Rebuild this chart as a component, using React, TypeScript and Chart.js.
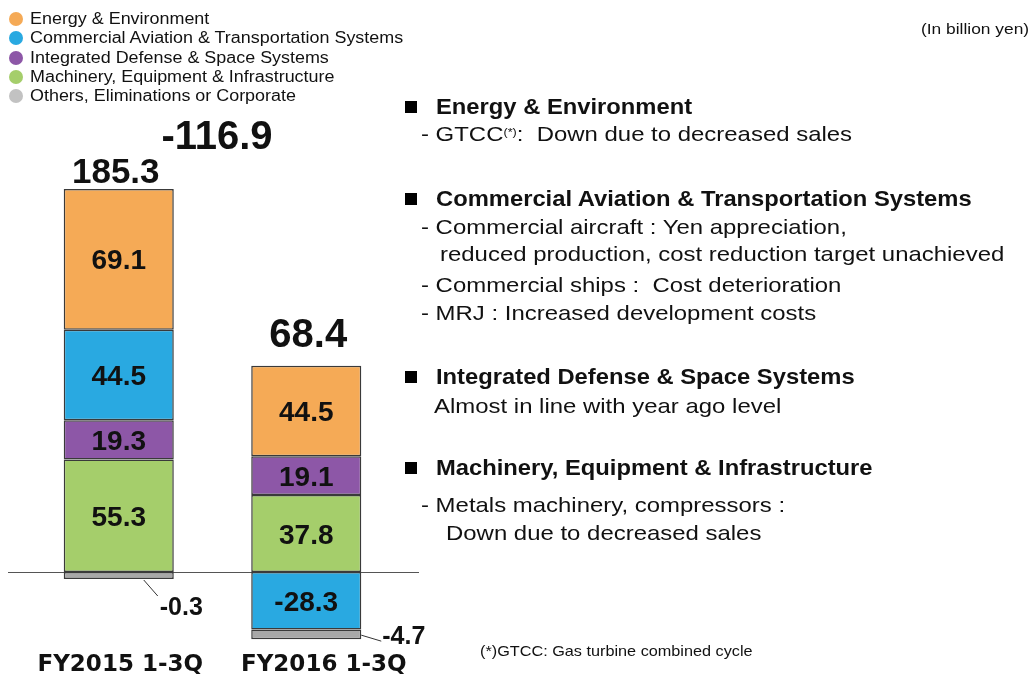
import React, { useEffect, useRef } from "react";
import { Chart, registerables } from "chart.js";

Chart.register(...registerables);

const FONT = '"Liberation Sans", Arial, sans-serif';
const STRETCH = 1.12;

// ---- data ----
const categories = ["FY2015 1-3Q", "FY2016 1-3Q"];
const seriesNames = [
  "Energy & Environment",
  "Commercial Aviation & Transportation Systems",
  "Integrated Defense & Space Systems",
  "Machinery, Equipment & Infrastructure",
  "Others, Eliminations or Corporate",
];
const energyValues = [69.1, 44.5];
const aviationValues = [44.5, -28.3];
const defenseValues = [19.3, 19.1];
const machineryValues = [55.3, 37.8];
const othersValues = [-0.3, -4.7];
const totalValues = [185.3, 68.4];
const changeValue = -116.9;

const seriesColors = ["#F5AA56", "#29A9E1", "#8D57A7", "#A5CE6B", "#A8A8A8"];
const legendColors = ["#F5AA56", "#29A9E1", "#8D57A7", "#A5CE6B", "#C2C2C2"];

// ---- notes on the right ----
type Note = { text: string; y: number; x: number; kind: "head" | "body" | "gtcc" };
const notes: Note[] = [
  { kind: "head", text: "Energy & Environment", y: 107, x: 436 },
  { kind: "gtcc", text: ":  Down due to decreased sales", y: 134, x: 421 },
  { kind: "head", text: "Commercial Aviation & Transportation Systems", y: 199, x: 436 },
  { kind: "body", text: "- Commercial aircraft : Yen appreciation,", y: 227, x: 421 },
  { kind: "body", text: "reduced production, cost reduction target unachieved", y: 254, x: 440 },
  { kind: "body", text: "- Commercial ships :  Cost deterioration", y: 285, x: 421 },
  { kind: "body", text: "- MRJ : Increased development costs", y: 313, x: 421 },
  { kind: "head", text: "Integrated Defense & Space Systems", y: 377, x: 436 },
  { kind: "body", text: "Almost in line with year ago level", y: 406, x: 434 },
  { kind: "head", text: "Machinery, Equipment & Infrastructure", y: 468, x: 436 },
  { kind: "body", text: "- Metals machinery, compressors :", y: 505, x: 421 },
  { kind: "body", text: "Down due to decreased sales", y: 533, x: 446 },
];

const labelPlugin = {
  id: "segmentLabels",
  beforeDatasetsDraw(chart: any) {
    const { ctx, scales } = chart;
    const y0 = Math.round(scales.y.getPixelForValue(0)) + 0.5;
    ctx.save();
    ctx.strokeStyle = "#555555";
    ctx.lineWidth = 1;
    ctx.beginPath();
    ctx.moveTo(8, y0);
    ctx.lineTo(419, y0);
    ctx.stroke();
    ctx.restore();
  },
  afterDatasetsDraw(chart: any) {
    const { ctx, scales } = chart;
    const n = chart.data.datasets.length;
    ctx.save();
    ctx.fillStyle = "#111111";
    // values inside the segments
    ctx.textAlign = "center";
    ctx.textBaseline = "alphabetic";
    ctx.font = `bold 28px ${FONT}`;
    for (let d = 0; d < n - 1; d++) {
      const meta = chart.getDatasetMeta(d);
      meta.data.forEach((el: any, i: number) => {
        const v = chart.data.datasets[d].data[i];
        if (v === null || v === undefined) return;
        const mid = (el.y + el.base) / 2;
        ctx.fillText(Number(v).toFixed(1), el.x, mid + 0.358 * 28);
      });
    }
    // "Others" labels with leader lines
    const om = chart.getDatasetMeta(n - 1);
    const leaders = [
      { sx: 25, sy: 1, ex: 39, ey: 17, tx: 41, ty: 36 },
      { sx: 55, sy: -4, ex: 75, ey: 2, tx: 76, ty: 5 },
    ];
    ctx.font = `bold 25px ${FONT}`;
    ctx.textAlign = "left";
    om.data.forEach((el: any, i: number) => {
      const L = leaders[i];
      const head = Math.max(el.y, el.base);
      ctx.strokeStyle = "#333333";
      ctx.lineWidth = 1;
      ctx.beginPath();
      ctx.moveTo(el.x + L.sx, head + L.sy);
      ctx.lineTo(el.x + L.ex, head + L.ey);
      ctx.stroke();
      ctx.fillText(Number(chart.data.datasets[n - 1].data[i]).toFixed(1), el.x + L.tx, head + L.ty);
    });
    // totals above bars
    const tops: number[] = [];
    const xs: number[] = [];
    for (let i = 0; i < categories.length; i++) {
      let top = Infinity;
      for (let d = 0; d < n; d++) {
        const el = chart.getDatasetMeta(d).data[i];
        top = Math.min(top, el.y, el.base);
        xs[i] = el.x;
      }
      tops[i] = top;
    }
    ctx.textAlign = "center";
    const totalFonts = [35, 40];
    const totalGap = [18.5, 32.5];
    const totalDx = [-3, 2];
    totalValues.forEach((t, i) => {
      ctx.font = `bold ${totalFonts[i]}px ${FONT}`;
      ctx.fillText(t.toFixed(1), xs[i] + totalDx[i], tops[i] - totalGap[i] + 0.358 * totalFonts[i]);
    });
    ctx.font = `bold 40px ${FONT}`;
    ctx.fillText(changeValue.toFixed(1), (xs[0] + xs[1]) / 2 + 4.5, tops[0] - 54 + 0.358 * 40);
    // category labels
    ctx.font = `bold 23px "DejaVu Sans", "Noto Sans", sans-serif`;
    const catDx = [1.5, 17.5];
    categories.forEach((c, i) => {
      const x = scales.x.getPixelForValue(i) + catDx[i];
      ctx.fillText(c, x, 663 + 0.364 * 23);
    });
    ctx.restore();
  },
};

function TextLine(props: {
  x: number;
  y: number;
  size: number;
  bold?: boolean;
  lh?: number;
  sx?: number;
  children: any;
}) {
  const lh = props.lh ?? 28;
  return (
    <div
      style={{
        position: "absolute",
        left: props.x,
        top: props.y - lh / 2,
        height: lh,
        lineHeight: `${lh}px`,
        fontSize: props.size,
        fontFamily: FONT,
        fontWeight: props.bold ? 700 : 400,
        whiteSpace: "pre",
        color: "#111111",
        transform: `scaleX(${props.sx ?? STRETCH})`,
        transformOrigin: "left center",
      }}
    >
      {props.children}
    </div>
  );
}

export default function App() {
  const canvasRef = useRef<HTMLCanvasElement | null>(null);

  useEffect(() => {
    if (!canvasRef.current) return;
    const datasets = [
      { label: seriesNames[3], data: machineryValues, backgroundColor: seriesColors[3] },
      { label: seriesNames[2], data: defenseValues, backgroundColor: seriesColors[2] },
      { label: seriesNames[1], data: aviationValues, backgroundColor: seriesColors[1] },
      { label: seriesNames[0], data: energyValues, backgroundColor: seriesColors[0] },
      { label: seriesNames[4], data: othersValues, backgroundColor: seriesColors[4], minBarLength: 7 },
    ].map((d) => ({
      ...d,
      borderColor: "#3A3A3A",
      borderWidth: 1.5,
      borderSkipped: false,
      categoryPercentage: 0.587,
      barPercentage: 1,
      stack: "s",
    }));
    const chart = new Chart(canvasRef.current, {
      type: "bar",
      data: { labels: categories, datasets: datasets as any },
      options: {
        responsive: false,
        maintainAspectRatio: false,
        animation: false,
        layout: { padding: { left: 25, right: 633, top: 165, bottom: 25.6 } },
        plugins: { legend: { display: false }, tooltip: { enabled: false } },
        scales: {
          x: { stacked: true, display: false },
          y: { stacked: true, display: false, min: -40, max: 200 },
        },
      },
      plugins: [labelPlugin as any],
    });
    return () => chart.destroy();
  }, []);

  return (
    <div style={{ position: "absolute", left: 0, top: 0, width: 1033, height: 679, background: "#ffffff", overflow: "hidden" }}>
      <canvas ref={canvasRef} width={1033} height={679} style={{ position: "absolute", left: 0, top: 0, width: 1033, height: 679 }} />
      {/* legend */}
      {seriesNames.map((name, i) => {
        const cy = 19 + i * 19.25;
        return (
          <React.Fragment key={name}>
            <div
              style={{
                position: "absolute",
                left: 9,
                top: cy - 7,
                width: 14,
                height: 14,
                borderRadius: "50%",
                background: legendColors[i],
              }}
            />
            <TextLine x={30} y={cy} size={16} lh={20}>
              {name}
            </TextLine>
          </React.Fragment>
        );
      })}
      <TextLine x={921} y={29} size={15.5} lh={20}>
        (In billion yen)
      </TextLine>
      {/* notes */}
      {notes.map((n, i) => {
        if (n.kind === "head") {
          return (
            <React.Fragment key={i}>
              <div style={{ position: "absolute", left: 405, top: n.y - 6, width: 12, height: 12, background: "#000" }} />
              <TextLine x={n.x} y={n.y} size={22} bold sx={1.08}>
                {n.text}
              </TextLine>
            </React.Fragment>
          );
        }
        if (n.kind === "gtcc") {
          return (
            <TextLine key={i} x={n.x} y={n.y} size={21} sx={1.14}>
              {"- GTCC"}
              <span style={{ fontSize: 11, verticalAlign: 5, lineHeight: "1px" }}>(*)</span>
              {n.text}
            </TextLine>
          );
        }
        return (
          <TextLine key={i} x={n.x} y={n.y} size={21} sx={1.14}>
            {n.text}
          </TextLine>
        );
      })}
      <TextLine x={480} y={651} size={14.5} lh={20}>
        (*)GTCC: Gas turbine combined cycle
      </TextLine>
    </div>
  );
}
